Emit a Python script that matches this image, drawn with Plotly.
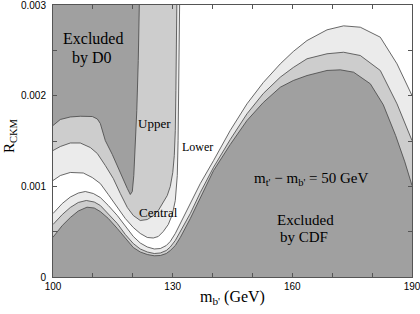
import plotly.graph_objects as go

# ---- boundary curves (x = m_b' in GeV, y = R_CKM) ----
# CDF excluded region boundary (dark, bottom)
cdf_x = [100.0, 102.33, 104.34, 106.34, 108.52, 110.35, 111.86, 113.86, 116.12, 118.13,
         120.13, 121.88, 123.64, 125.39, 126.90, 128.40, 129.40, 130.66, 131.91, 134.42,
         136.93, 140.26, 144.43, 148.63, 152.72, 156.98, 160.24, 163.68, 168.69, 172.03,
         175.36, 179.55, 182.80, 185.90, 188.20, 190.0]
cdf_y = [0.000439, 0.000568, 0.000656, 0.000728, 0.000770, 0.000761, 0.000722, 0.000646, 0.000535, 0.000425,
         0.000325, 0.000276, 0.000248, 0.000234, 0.000237, 0.000259, 0.000292, 0.000347, 0.000436, 0.000645,
         0.000877, 0.001175, 0.001461, 0.001726, 0.001925, 0.002093, 0.002167, 0.002222, 0.002278, 0.002285,
         0.002259, 0.002131, 0.001900, 0.001560, 0.001270, 0.001009]

# middle band boundary (medium grey)
mid_x = [100.0, 102.33, 104.34, 106.34, 108.35, 110.35, 111.86, 113.86, 116.12, 118.13,
         120.13, 121.88, 123.64, 125.39, 126.90, 128.40, 129.40, 130.66, 131.91, 134.42,
         136.93, 140.26, 144.43, 148.63, 152.72, 156.98, 160.24, 163.68, 168.69, 172.85,
         177.04, 182.05, 186.24, 190.0]
mid_y = [0.000579, 0.000689, 0.000767, 0.000822, 0.000844, 0.000827, 0.000789, 0.000700, 0.000590, 0.000469,
         0.000369, 0.000309, 0.000276, 0.000259, 0.000265, 0.000292, 0.000331, 0.000403, 0.000502, 0.000700,
         0.000932, 0.001211, 0.001516, 0.001800, 0.002024, 0.002204, 0.002311, 0.002407, 0.002462, 0.002479,
         0.002443, 0.002278, 0.001910, 0.001505]

# outer band boundary (light grey)
out_x = [100.0, 102.33, 104.34, 106.34, 108.10, 110.10, 111.86, 113.86, 116.12, 118.13,
         120.13, 121.88, 123.64, 125.39, 126.90, 128.40, 129.40, 130.66, 131.91, 134.42,
         136.93, 140.26, 144.43, 148.63, 152.72, 156.98, 160.24, 163.68, 168.69, 172.85,
         177.04, 182.05, 186.24, 190.0]
out_y = [0.000700, 0.000811, 0.000882, 0.000926, 0.000943, 0.000921, 0.000877, 0.000789, 0.000678, 0.000557,
         0.000447, 0.000375, 0.000331, 0.000309, 0.000314, 0.000347, 0.000392, 0.000480, 0.000590, 0.000800,
         0.001031, 0.001285, 0.001616, 0.001910, 0.002145, 0.002351, 0.002487, 0.002608, 0.002726, 0.002770,
         0.002755, 0.002645, 0.002351, 0.002002]

# D0 excluded region boundary (dark, upper left)
d0_x = [100.0, 101.83, 104.34, 106.84, 109.85, 111.11, 111.86, 113.11, 114.87, 116.37,
        117.62, 118.63, 119.38, 119.88, 120.26, 120.63, 121.01, 121.38, 121.64]
d0_y = [0.001671, 0.001737, 0.001765, 0.001773, 0.001770, 0.001743, 0.001693, 0.001505, 0.001351, 0.001197,
        0.001064, 0.000976, 0.000910, 0.000943, 0.001119, 0.001450, 0.001836, 0.002388, 0.003]

# "Upper" band boundary (medium grey)
up_x = [100.0, 101.83, 104.34, 106.84, 109.35, 111.11, 113.11, 115.12, 116.87, 118.63,
        120.13, 121.88, 123.64, 125.14, 126.40, 127.65, 128.65, 129.40, 130.03, 130.41,
        130.66, 130.81, 130.91, 131.04]
up_y = [0.001395, 0.001439, 0.001478, 0.001478, 0.001428, 0.001362, 0.001230, 0.001086, 0.000921, 0.000767,
        0.000678, 0.000623, 0.000634, 0.000678, 0.000733, 0.000822, 0.000899, 0.000998, 0.001153, 0.001340,
        0.001616, 0.002057, 0.002498, 0.003]

# light band boundary above "Central"
cen_x = [100.0, 101.83, 104.34, 107.60, 109.85, 111.86, 113.86, 116.12, 118.13, 120.13,
         121.88, 123.64, 125.14, 126.40, 127.65, 128.90, 129.91, 130.66, 131.16, 131.36,
         131.54, 131.66, 131.74]
cen_y = [0.001064, 0.001119, 0.001153, 0.001147, 0.001097, 0.001031, 0.000910, 0.000767, 0.000645, 0.000546,
         0.000480, 0.000436, 0.000430, 0.000447, 0.000502, 0.000579, 0.000689, 0.000844, 0.001119, 0.001505,
         0.002057, 0.002498, 0.003]

x_ticks = [100, 130, 160, 190]
y_ticks = [0, 0.001, 0.002, 0.003]
y_ticktext = ["0", "0.001", "0.002", "0.003"]

X_MIN, X_MAX = 100, 190
Y_MIN, Y_MAX = 0, 0.003

DARK = "#a0a0a0"
MED = "#cdcdcd"
LIGHT = "#ebebeb"
LINE = "#444444"
LW = 0.8

fig = go.Figure()

# bottom stack (drawn light -> dark)
for xs, ys, col in [(out_x, out_y, LIGHT), (mid_x, mid_y, MED), (cdf_x, cdf_y, DARK)]:
    fig.add_trace(go.Scatter(x=xs, y=ys, mode="lines", fill="tozeroy", fillcolor=col,
                             line=dict(color=LINE, width=LW), hoverinfo="skip", showlegend=False))

# upper-left stack (drawn light -> dark), closed through the top-left corner
for xs, ys, col in [(cen_x, cen_y, LIGHT), (up_x, up_y, MED), (d0_x, d0_y, DARK)]:
    fig.add_trace(go.Scatter(x=xs + [X_MIN], y=ys + [Y_MAX], mode="lines", fill="toself",
                             fillcolor=col, line=dict(width=0), hoverinfo="skip", showlegend=False))
    fig.add_trace(go.Scatter(x=xs, y=ys, mode="lines", line=dict(color=LINE, width=LW),
                             hoverinfo="skip", showlegend=False))

SERIF = "Liberation Serif, Times New Roman, serif"

def note(x, y, text, size):
    fig.add_annotation(x=x, y=y, xref="x", yref="y", text=text, showarrow=False,
                       font=dict(family=SERIF, size=size, color="black"),
                       xanchor="center", yanchor="middle")

note(109.98, 0.002630, "Excluded", 16)
note(109.85, 0.002420, "by D0", 16)
note(125.40, 0.001693, "Upper", 13)
note(136.30, 0.001439, "Lower", 12)
note(126.52, 0.000711, "Central", 13)
note(164.8, 0.001086, "m<sub>t'</sub> \u2212 m<sub>b'</sub> = 50 GeV", 15)
note(163.25, 0.000625, "Excluded", 15)
note(162.87, 0.000440, "by CDF", 15)

# axis titles
fig.add_annotation(x=0.5, y=-0.077, xref="paper", yref="paper", showarrow=False,
                   text="m<sub>b'</sub> (GeV)", font=dict(family=SERIF, size=16, color="black"),
                   xanchor="center", yanchor="middle")
fig.add_annotation(x=-0.121, y=0.52, xref="paper", yref="paper", showarrow=False,
                   text="R<sub>CKM</sub>", textangle=-90,
                   font=dict(family=SERIF, size=15, color="black"),
                   xanchor="center", yanchor="middle")

axis_common = dict(showgrid=False, zeroline=False, showline=True, linecolor="#555555",
                   linewidth=1, mirror="ticks", ticks="inside", ticklen=4, tickcolor="#555555",
                   automargin=False, ticklabeloverflow="allow",
                   tickfont=dict(family="Liberation Sans, Arial, sans-serif", size=10, color="black"))

fig.update_xaxes(range=[X_MIN, X_MAX], tickvals=x_ticks,
                 minor=dict(dtick=10, ticks="inside", ticklen=4, tickcolor="#555555"),
                 **axis_common)
fig.update_yaxes(range=[Y_MIN, Y_MAX], tickvals=y_ticks, ticktext=y_ticktext,
                 minor=dict(dtick=0.0005, ticks="inside", ticklen=4, tickcolor="#555555"),
                 ticklabelstandoff=4, **axis_common)

fig.update_layout(width=420, height=314, margin=dict(l=53, r=8, t=5, b=37),
                  plot_bgcolor="white", paper_bgcolor="white")

fig.write_html("out.html", config={"displayModeBar": False, "staticPlot": True},
               post_script="document.body.style.margin='0';document.body.style.overflow='hidden';")
